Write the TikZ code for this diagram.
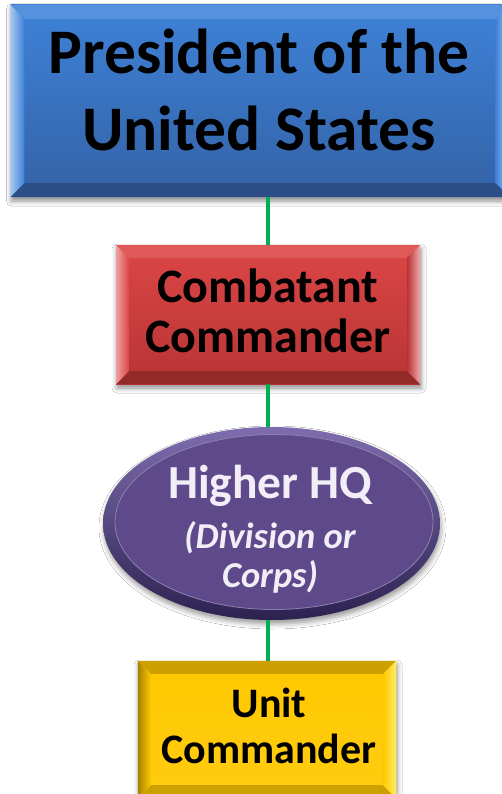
\documentclass[tikz,border=0pt]{standalone}
\usepackage{fontspec}
\setmainfont{Carlito}
\usetikzlibrary{shadows.blur,shapes.geometric}

\definecolor{linkgreen}{HTML}{00B050}
\definecolor{blueTop}{HTML}{3E82D8}
\definecolor{blueBot}{HTML}{3462A6}
\definecolor{redTop}{HTML}{DC4646}
\definecolor{redBot}{HTML}{B83434}
\definecolor{goldTop}{HTML}{FFC800}
\definecolor{goldBot}{HTML}{FFCC10}
\definecolor{purpleIn}{HTML}{5E4A8A}
\definecolor{purpleHi}{HTML}{7E6DAE}
\definecolor{purpleLo}{HTML}{2C2250}
\definecolor{hqText}{HTML}{F2EEF7}

% bevelled faces along the four edges of a rectangular node
% #1 node, #2 bevel width, #3 top face, #4 bottom face, #5 left face, #6 right face
\newcommand\bevelfaces[6]{%
  \path[#3] (#1.north west) -- (#1.north east) -- ([shift={(-#2,#2)}]#1.north east) -- ([shift={(#2,#2)}]#1.north west) -- cycle;
  \path[#4] (#1.south west) -- (#1.south east) -- ([shift={(-#2,-#2)}]#1.south east) -- ([shift={(#2,-#2)}]#1.south west) -- cycle;
  \path[#5] (#1.north west) -- (#1.south west) -- ([shift={(#2,-#2)}]#1.south west) -- ([shift={(#2,#2)}]#1.north west) -- cycle;
  \path[#6] (#1.north east) -- (#1.south east) -- ([shift={(-#2,-#2)}]#1.south east) -- ([shift={(-#2,#2)}]#1.north east) -- cycle;
}

\tikzset{
  box/.style={rectangle, inner sep=0pt,
    blur shadow={shadow xshift=1pt, shadow yshift=-4pt, shadow blur radius=5pt, shadow opacity=45}},
  label/.style={align=center, inner sep=0pt},
  link/.style={draw=linkgreen, line width=4pt},
}

\begin{document}
\begin{tikzpicture}[x=1pt,y=-1pt]
  \useasboundingbox (0,0) rectangle (502,794);
  \clip (0,0) rectangle (502,794);
  \fill[white] (0,0) rectangle (502,794);

  % President
  \node[box, minimum width=499pt, minimum height=192pt, top color=blueTop, bottom color=blueBot] (pres) at (260,101) {};
  \bevelfaces{pres}{14}{fill={blueTop!88!white}}{fill={blueBot!80!black}}%
    {left color={blueTop!45!white}, right color=blueTop}{left color=blueTop, right color={blueTop!45!white}}
  \node[label, font=\bfseries\fontsize{63.5}{77}\selectfont] (prestext) at (259,89.5)
        {President of the\\United States};

  % Combatant Commander
  \node[box, minimum width=304pt, minimum height=139pt, top color=redTop, bottom color=redBot] (cc) at (268,314.5) {};
  \bevelfaces{cc}{13}{fill={redTop!90!white}}{fill={redBot!80!black}}%
    {left color={redTop!50!white}, right color=redTop}{left color=redBot, right color={redTop!45!white}}
  \node[label, font=\bfseries\fontsize{48}{50}\selectfont] (cctext) at (268,311)
        {Combatant\\Commander};

  % Higher HQ
  \node[ellipse, minimum width=337pt, minimum height=193pt, inner sep=0pt,
        top color=purpleHi, bottom color=purpleLo,
        blur shadow={shadow xshift=1pt, shadow yshift=-4pt, shadow blur radius=5pt, shadow opacity=40}] (hq) at (271.5,523.5) {};
  \fill[purpleIn, draw=purpleIn!70!white, line width=0.8pt] ([shift={(2.5,-1.5)}]hq.center) ellipse [x radius=159, y radius=87.5];
  \node[label, text=hqText, font=\bfseries\itshape\fontsize{36.5}{39}\selectfont] (hqtext) at (270,529)
        {{\upshape\fontsize{47.5}{39}\selectfont Higher HQ}\\[11pt]
         (Division or\\
         Corps)};

  % Unit Commander
  \node[box, minimum width=258pt, minimum height=137pt, top color=goldTop, bottom color=goldBot] (unit) at (267,729.5) {};
  \bevelfaces{unit}{13}{fill={goldTop!80!black}}{fill={goldTop!80!black}}%
    {left color={goldTop!65!black}, right color=goldTop}{left color=goldTop, right color={goldTop!50!yellow!60!white}}
  \node[label, font=\bfseries\fontsize{42}{46}\selectfont] (unittext) at (269,726)
        {Unit\\Commander};

  % chain of command
  \draw[link] (pres.south -| cc.north) -- (cc.north);
  \draw[link] (cc.south) -- (cc.south |- hq.north);
  \draw[link] (hq.south -| cc.south) -- (unit.north -| cc.south);
\end{tikzpicture}
\end{document}
